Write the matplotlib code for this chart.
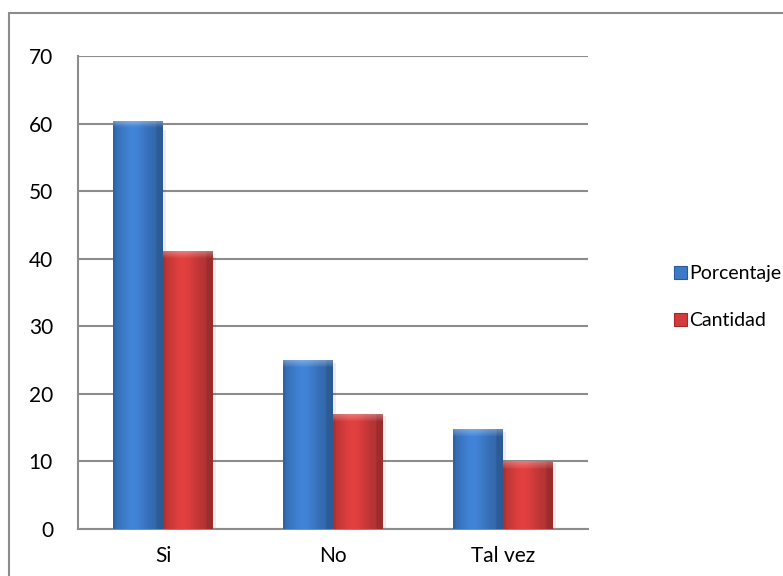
import numpy as np
import matplotlib.pyplot as plt
from matplotlib.patches import Rectangle, Patch
from matplotlib.colors import to_rgb

plt.rcParams['font.family'] = ['Lato', 'DejaVu Sans']

categories = ['Si', 'No', 'Tal vez']
porcentaje = [60.29, 25.0, 14.71]
cantidad = [41, 17, 10]
yticks = [0, 10, 20, 30, 40, 50, 60, 70]

blue = '#3C7AC8'
red = '#D23B3B'
grid_col = '#8C8C8C'


def shaded_bar(ax, x0, w, h, base):
    # horizontal cylinder-style shading plus a light bevel at the top
    c = np.array(to_rgb(base))
    t = np.linspace(0, 1, 60)
    prof = 0.84 + 0.24 * np.exp(-((t - 0.4) / 0.3) ** 2)
    prof[t > 0.88] *= 0.88
    prof[t < 0.05] *= 0.92
    ny = 200
    img = np.ones((ny, len(t), 3)) * c
    img = img * prof[None, :, None]
    band = int(ny * min(1.1 / max(h, 1e-6), 0.5))
    if band > 0:
        fade = np.linspace(0.3, 0.05, band)[:, None, None]
        img[:band] = img[:band] * (1 - fade) + fade
    img = np.clip(img, 0, 1)
    ax.imshow(img, extent=(x0, x0 + w, 0, h), aspect='auto',
              origin='upper', zorder=3, interpolation='bilinear')
    # soft shadow to the right
    ax.add_patch(Rectangle((x0 + w, 0), 0.02, h * 0.98, color='#000000',
                           alpha=0.07, lw=0, zorder=2))


fig = plt.figure(figsize=(7.83, 5.76), dpi=100)
ax = fig.add_axes([78 / 783, 47 / 576, 510 / 783, 473 / 576])

x = np.arange(len(categories))
w = 0.294
for i in x:
    shaded_bar(ax, i - w, w, porcentaje[i], blue)
    shaded_bar(ax, i, w, cantidad[i], red)

ax.set_xlim(-0.5, 2.5)
ax.set_ylim(0, 70)
ax.set_yticks(yticks)
ax.set_xticks(x)
ax.set_xticklabels(categories)
ax.tick_params(axis='both', length=0, labelsize=15, colors='black')
ax.tick_params(axis='y', pad=18)
ax.tick_params(axis='x', pad=12)
ax.yaxis.grid(True, color=grid_col, lw=1.5)
ax.set_axisbelow(True)
for s in ['top', 'right']:
    ax.spines[s].set_visible(False)
for s in ['left', 'bottom']:
    ax.spines[s].set_color(grid_col)
    ax.spines[s].set_linewidth(1.5)

handles = [Patch(facecolor=blue, edgecolor='#2A5A9A', lw=0.8),
           Patch(facecolor=red, edgecolor='#A02828', lw=0.8)]
fig.legend(handles, ['Porcentaje', 'Cantidad'], loc='center left',
           bbox_to_anchor=(674 / 783, 1 - 297 / 576), frameon=False,
           fontsize=14, handlelength=0.65, handleheight=0.65,
           handletextpad=0.12, labelspacing=1.55, borderpad=0,
           borderaxespad=0)

# outer chart border
fig.add_artist(Rectangle((8.5 / 783, -0.1), 1.2, 1 - 13 / 576 + 0.1,
                         transform=fig.transFigure, fill=False,
                         edgecolor=grid_col, lw=1.5))

fig.savefig('out.png', dpi=100)
